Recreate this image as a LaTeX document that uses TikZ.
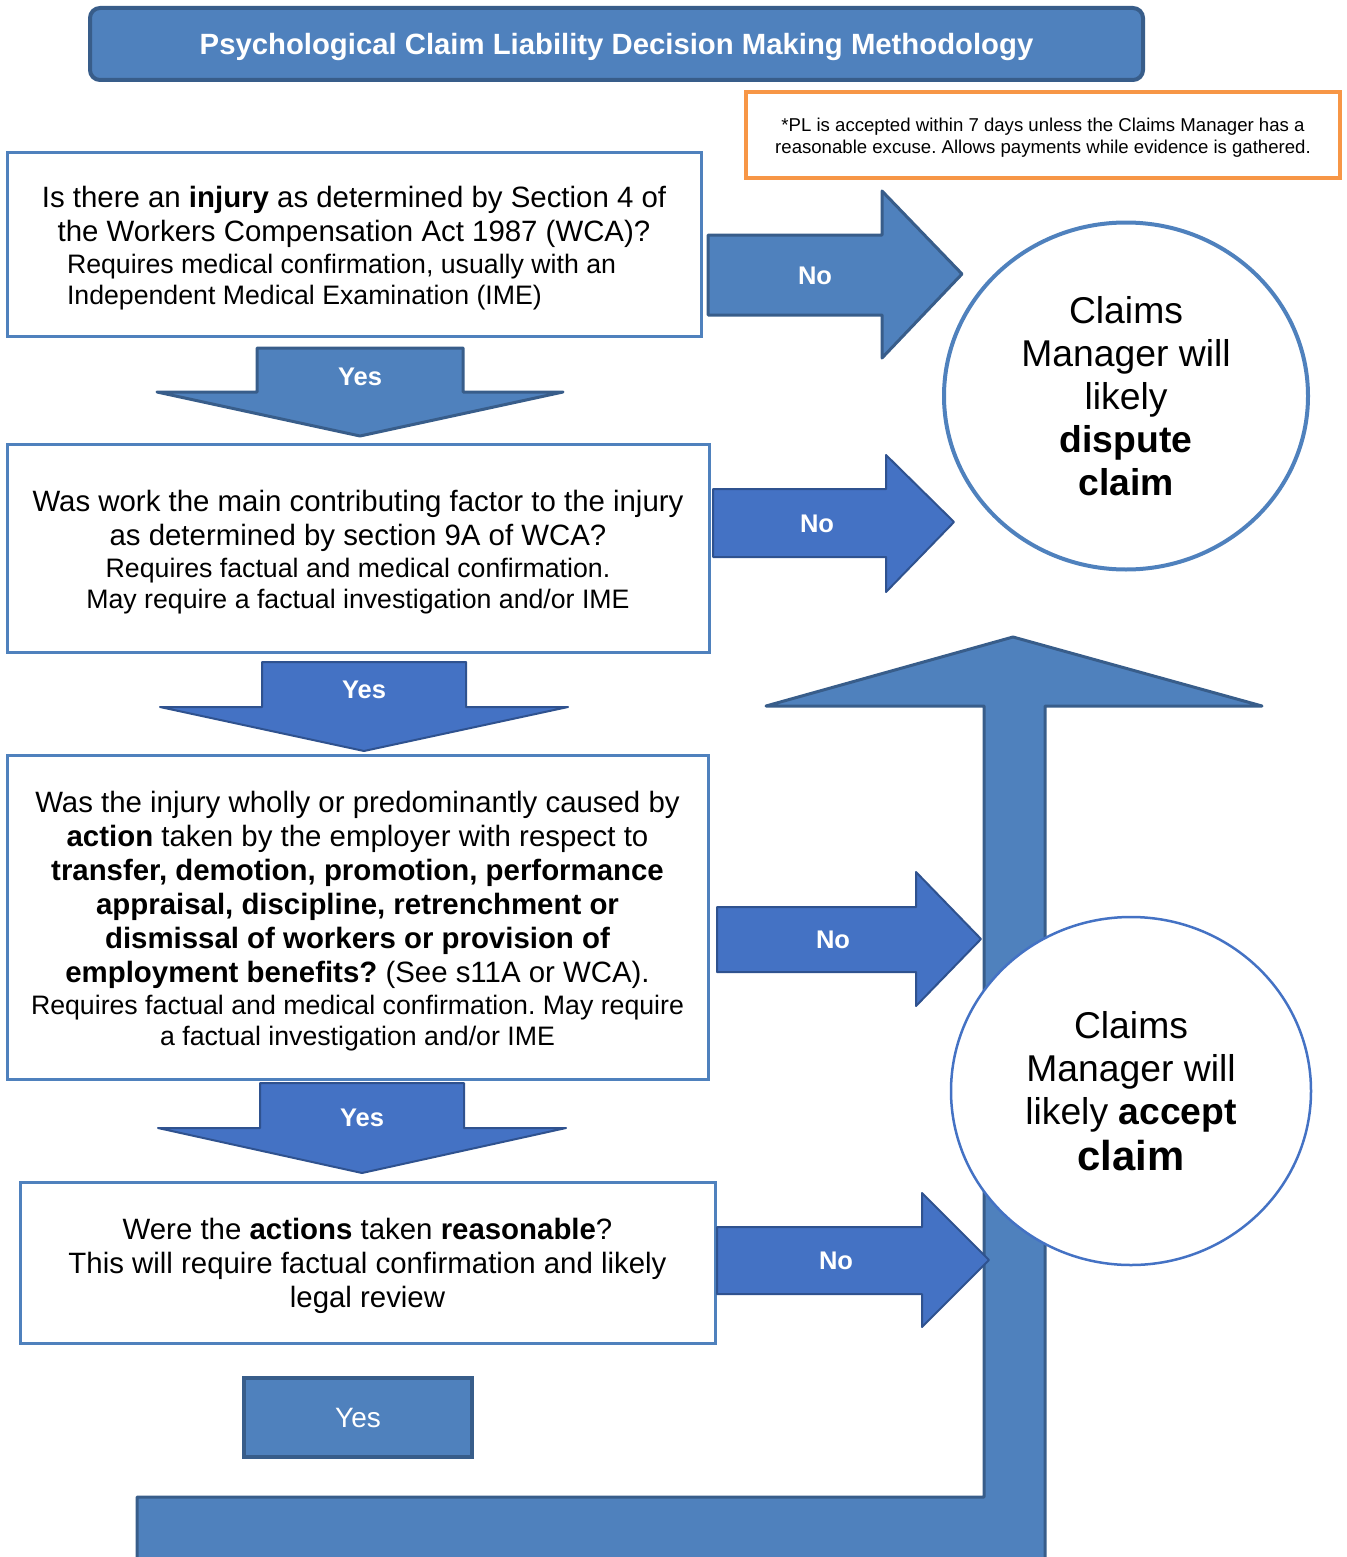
\documentclass[tikz,border=0pt]{standalone}
\usepackage{fontspec}
\setmainfont{Liberation Sans}
\usetikzlibrary{shapes.geometric}

\definecolor{boxblue}{HTML}{4F81BD}
\definecolor{boxdark}{HTML}{385D8A}
\definecolor{arrblue}{HTML}{4472C4}
\definecolor{arrdark}{HTML}{2F528F}
\definecolor{noteorange}{HTML}{F79646}

\newcommand{\bigtext}{\fontsize{29.4}{34}\selectfont}
\newcommand{\smalltext}{\fontsize{26.7}{31}\selectfont}
% pushes a text block down a little inside its box
\newcommand{\topstrut}[1]{\rule{0pt}{#1}}

\tikzset{
    question/.style={draw=boxblue, line width=3pt, fill=white
        , align=center, inner sep=0pt, font=\bigtext},
    outcome/.style={ellipse, fill=white, align=center, inner sep=0pt
        , font=\fontsize{37.3}{43}\selectfont},
    darkarrow/.style={fill=boxblue, draw=boxdark, line width=3pt
        , line join=round},
    brightarrow/.style={fill=arrblue, draw=arrdark, line width=2pt
        , line join=round},
    arrowlabel/.style={text=white, font=\bfseries\fontsize{25.5}{30}\selectfont},
}

\begin{document}
\frenchspacing
\begin{tikzpicture}[x=1pt, y=-1pt]

    \useasboundingbox (0,0) rectangle (1346,1557);

    %% the long arrow back up to the top
    \draw[darkarrow] (137,1570) -- (137,1497) -- (984,1497) -- (984,706)
        -- (766,706) -- (1013,637) -- (1262,706) -- (1045,706)
        -- (1045,1570) -- cycle;

    % title and note
    \node[fill=boxblue, draw=boxdark, line width=4pt, rounded corners=10pt
        , minimum width=1053pt, minimum height=72pt, text=white, text depth=0pt
        , font=\bfseries\fontsize{29.3}{34}\selectfont] (title) at (616.5,44)
        {Psychological Claim Liability Decision Making Methodology};
    \node[draw=noteorange, line width=4pt, minimum width=594pt
        , minimum height=86pt, align=center
        , font=\fontsize{18.6}{22}\selectfont] (note) at (1043,135)
        {\topstrut{19.5pt}*PL is accepted within 7 days unless the Claims Manager has a\\
         reasonable excuse. Allows payments while evidence is gathered.};

    % the four questions
    \node[question, minimum width=694pt, minimum height=183pt] (injury)
        at (354,244.5) {\topstrut{29pt}Is there an \textbf{injury} as determined by Section 4 of\\
        the Workers Compensation Act 1987 (WCA)?\\[-2pt]
        \smalltext\makebox[574pt][l]{Requires medical confirmation, usually with an}\\[-3pt]
        \smalltext\makebox[574pt][l]{Independent Medical Examination (IME)}};
    \node[question, minimum width=702pt, minimum height=208pt] (work)
        at (358,548) {\topstrut{29pt}Was work the main contributing factor to the injury\\
        as determined by section 9A of WCA?\\[-2pt]
        \smalltext Requires factual and medical confirmation.\\[-3pt]
        \smalltext May require a factual investigation and/or IME};
    \node[question, minimum width=701pt, minimum height=324pt] (action)
        at (357.5,917) {\topstrut{30pt}Was the injury wholly or predominantly caused by\\
        \textbf{action} taken by the employer with respect to\\
        \textbf{transfer, demotion, promotion, performance}\\
        \textbf{appraisal, discipline, retrenchment or}\\
        \textbf{dismissal of workers or provision of}\\
        \textbf{employment benefits?} (See s11A or WCA).\\[-2pt]
        \smalltext Requires factual and medical confirmation. May require\\[-3pt]
        \smalltext a factual investigation and/or IME};
    \node[question, minimum width=695pt, minimum height=161pt] (reason)
        at (367.5,1262.5) {\topstrut{28.5pt}Were the \textbf{actions} taken \textbf{reasonable}?\\
        This will require factual confirmation and likely\\
        legal review};

    % yes arrows going down
    \draw[darkarrow] (257,348) -- (463,348) -- (463,392) -- (563,392)
        -- (360,436) -- (157,392) -- (257,392) -- cycle;
    \node[arrowlabel] (yes1) at (360,377) {Yes};
    \draw[brightarrow] (262,662) -- (466,662) -- (466,707) -- (568,707)
        -- (364,751) -- (160,707) -- (262,707) -- cycle;
    \node[arrowlabel] (yes2) at (364,690) {Yes};
    \draw[brightarrow] (260,1083) -- (464,1083) -- (464,1128) -- (566,1128)
        -- (362,1173) -- (158,1128) -- (260,1128) -- cycle;
    \node[arrowlabel] (yes3) at (362,1118) {Yes};
    \node[fill=boxblue, draw=boxdark, line width=4pt, minimum width=228pt
        , minimum height=79pt, text=white
        , font=\fontsize{28}{32}\selectfont] (yes4) at (358,1417.5) {Yes};

    % no arrows going right
    \draw[darkarrow] (708,235) -- (882,235) -- (882,191) -- (962,274)
        -- (882,358) -- (882,315) -- (708,315) -- cycle;
    \node[arrowlabel] (no1) at (815,276) {No};
    \draw[brightarrow] (713,489) -- (886,489) -- (886,455) -- (954,522)
        -- (886,592) -- (886,557) -- (713,557) -- cycle;
    \node[arrowlabel] (no2) at (817,524) {No};
    \draw[brightarrow] (717,907) -- (916,907) -- (916,872) -- (981,939)
        -- (916,1006) -- (916,972) -- (717,972) -- cycle;
    \node[arrowlabel] (no3) at (833,940) {No};
    \draw[brightarrow] (717,1227) -- (922,1227) -- (922,1193) -- (989,1260)
        -- (922,1327) -- (922,1294) -- (717,1294) -- cycle;
    \node[arrowlabel] (no4) at (836,1261) {No};

    % outcomes
    \node[outcome, draw=boxblue, line width=4pt, minimum width=364pt
        , minimum height=347pt] (dispute) at (1126,396)
        {Claims\\Manager will\\likely\\\textbf{dispute}\\\textbf{claim}};
    \node[outcome, draw=arrblue, line width=2.5pt, minimum width=360pt
        , minimum height=348pt] (accept) at (1131,1091)
        {Claims\\Manager will\\likely \textbf{accept}\\[3pt]
        \fontsize{41.8}{46}\selectfont\textbf{claim}};
\end{tikzpicture}
\end{document}
